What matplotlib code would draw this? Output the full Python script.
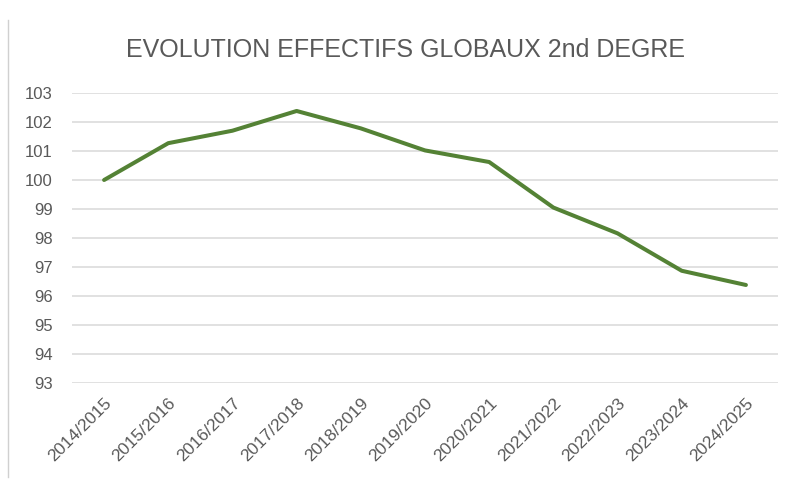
import matplotlib.pyplot as plt
from matplotlib.lines import Line2D

# school years and global headcount index (base 100 in 2014/2015)
years = ["2014/2015", "2015/2016", "2016/2017", "2017/2018", "2018/2019",
         "2019/2020", "2020/2021", "2021/2022", "2022/2023", "2023/2024",
         "2024/2025"]
index = [100.0, 101.27, 101.70, 102.38, 101.78, 101.02, 100.62, 99.05,
         98.16, 96.87, 96.38]
yticks = list(range(93, 104))

plt.rcParams['font.family'] = ['Liberation Sans', 'DejaVu Sans']

fig = plt.figure(figsize=(7.87, 4.82), dpi=100)
ax = fig.add_axes([72 / 787, 1 - 383 / 482, (778 - 72) / 787, (383 - 93) / 482])

pos = list(range(len(years)))
ax.plot(pos, index, color='#548235', linewidth=2.9, solid_capstyle='round',
        solid_joinstyle='round', zorder=3)

ax.set_xlim(-0.5, len(years) - 0.5)
ax.set_ylim(93, 103)
ax.set_yticks(yticks)
ax.set_xticks(pos)
ax.set_xticklabels(years, rotation=45, ha='right', rotation_mode='anchor')
ax.grid(axis='y', color='#d9d9d9', linewidth=1.1)
ax.set_axisbelow(True)
for s in ax.spines.values():
    s.set_visible(False)
ax.tick_params(axis='both', length=0, colors='#595959')
ax.tick_params(axis='y', pad=14, labelsize=12)
ax.tick_params(axis='x', pad=9, labelsize=12.5)

fig.text(0.515, 1 - 50 / 482, "EVOLUTION EFFECTIFS GLOBAUX 2nd DEGRE",
         ha='center', va='center', fontsize=18, color='#595959')

# thin grey border on the left edge
fig.add_artist(Line2D([8 / 787, 8 / 787], [1 - 20 / 482, 1 - 477 / 482],
                      color='#d0d0d0', linewidth=1))

fig.savefig("out.png", dpi=100)
